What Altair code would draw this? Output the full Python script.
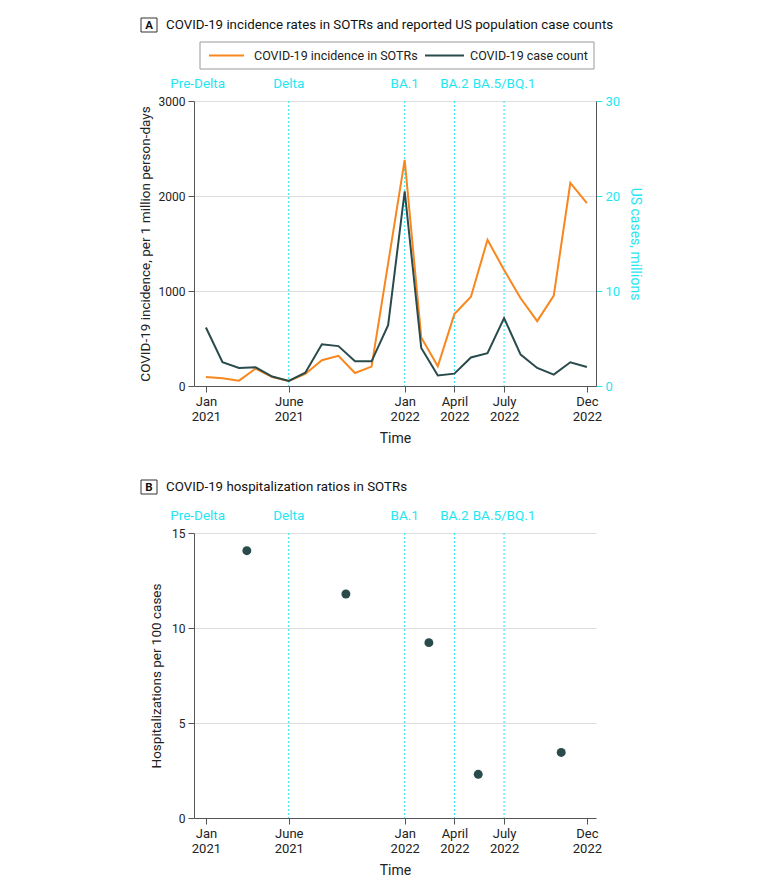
import altair as alt
import pandas as pd

# ---------------- data ----------------
month_idx = list(range(24))  # Jan 2021 .. Dec 2022
incidence_sotr = [95, 81, 56, 183, 95, 53, 127, 271, 317, 137, 204, 1290,
                  2380, 511, 208, 757, 940, 1539, 1222, 923, 683, 951, 2137, 1926]
us_cases_m = [6.16, 2.5, 1.9, 1.97, 1.0, 0.53, 1.4, 4.4, 4.2, 2.6, 2.6, 6.4,
              20.5, 4.0, 1.1, 1.3, 3.0, 3.45, 7.15, 3.3, 1.9, 1.2, 2.5, 2.0]

hosp_x = [2.47, 8.45, 13.46, 16.44, 21.45]
hosp_ratio = [14.07, 11.79, 9.23, 2.3, 3.45]

period_names = ["Pre-Delta", "Delta", "BA.1", "BA.2", "BA.5/BQ.1"]
period_label_pos = [-0.5, 5, 12, 15, 18]
period_bounds = [5, 12, 15, 18]

tick_vals = [0, 5, 12, 15, 18, 23]
tick_month = ["Jan", "June", "Jan", "April", "July", "Dec"]
tick_year = ["2021", "2021", "2022", "2022", "2022", "2022"]

series_names = ["COVID-19 incidence in SOTRs", "COVID-19 case count"]
title_a = "COVID-19 incidence rates in SOTRs and reported US population case counts"
title_b = "COVID-19 hospitalization ratios in SOTRs"

# ---------------- style ----------------
FONT = "Roboto, sans-serif"
ORANGE = "#F7871E"
DARK = "#2A4B4B"
CYAN = "#1FE6F2"
AXIS = "#555555"
W, H = 402, 285

label_expr = ""
for v, m, y in zip(tick_vals, tick_month, tick_year):
    label_expr += f"datum.value == {v} ? ['{m}', '{y}'] : "
label_expr += "''"

xscale = alt.Scale(domain=[-0.72, 23.55], nice=False, zero=False)
xaxis = alt.Axis(values=tick_vals, labelExpr=label_expr, grid=False, title="Time",
                 tickColor=AXIS, domainColor=AXIS, tickSize=6, labelFontSize=13,
                 titleFontSize=14, titleFontWeight="normal", labelPadding=3,
                 titlePadding=8, labelColor="#222", titleColor="#222", labelLineHeight=15)

inc_df = pd.DataFrame({"m": month_idx, "v": incidence_sotr, "s": series_names[0]})
case_df = pd.DataFrame({"m": month_idx, "v": us_cases_m, "s": series_names[1]})
hosp_df = pd.DataFrame({"m": hosp_x, "v": hosp_ratio})
bounds_df = pd.DataFrame({"m": period_bounds})
plabel_df = pd.DataFrame({"m": period_label_pos, "name": period_names})

color = alt.Color("s:N", scale=alt.Scale(domain=series_names, range=[ORANGE, DARK]), legend=None)


def decorations(title_text, letter, top):
    rules = alt.Chart(bounds_df).mark_rule(color=CYAN, strokeDash=[2, 2], strokeWidth=1).encode(
        x=alt.X("m:Q", scale=xscale, axis=xaxis))
    labels = alt.Chart(plabel_df).mark_text(color=CYAN, fontSize=13.5, font=FONT,
                                            baseline="middle", align="center").encode(
        x=alt.X("m:Q", scale=xscale), y=alt.value(-17), text="name:N")
    one = pd.DataFrame({"t": [title_text], "l": [letter]})
    box = alt.Chart(one).mark_rect(fill="white", stroke="#333", strokeWidth=1).encode(
        x=alt.value(-53), x2=alt.value(-37), y=alt.value(top), y2=alt.value(top + 14))
    let = alt.Chart(one).mark_text(fontWeight="bold", fontSize=11.5, font=FONT, color="#111",
                                   align="center", baseline="middle").encode(
        x=alt.value(-45), y=alt.value(top + 7.5), text="l:N")
    ttl = alt.Chart(one).mark_text(fontSize=13.3, font=FONT, color="#111",
                                   align="left", baseline="middle").encode(
        x=alt.value(-28), y=alt.value(top + 7), text="t:N")
    return [rules, labels, box, let, ttl]


# ---------------- manual legend (panel A) ----------------
leg_df = pd.DataFrame({"s": series_names})
LY = -45.5
leg_box = alt.Chart(pd.DataFrame({"a": [0]})).mark_rect(fill="white", stroke="#999", strokeWidth=1).encode(
    x=alt.value(6), x2=alt.value(400), y=alt.value(-59), y2=alt.value(-32))
leg_l1 = alt.Chart(leg_df.iloc[[0]]).mark_rule(strokeWidth=2).encode(
    x=alt.value(15), x2=alt.value(50), y=alt.value(LY), color=color)
leg_l2 = alt.Chart(leg_df.iloc[[1]]).mark_rule(strokeWidth=2).encode(
    x=alt.value(231), x2=alt.value(270), y=alt.value(LY), color=color)
leg_t1 = alt.Chart(leg_df.iloc[[0]]).mark_text(fontSize=12.5, font=FONT, color="#222", align="left",
                                               baseline="middle").encode(
    x=alt.value(60), y=alt.value(LY), text="s:N")
leg_t2 = alt.Chart(leg_df.iloc[[1]]).mark_text(fontSize=12.5, font=FONT, color="#222", align="left",
                                               baseline="middle").encode(
    x=alt.value(276), y=alt.value(LY), text="s:N")

# ---------------- panel A ----------------
decA = decorations(title_a, "A", -83)
inc_line = alt.Chart(inc_df).mark_line(strokeWidth=2).encode(
    x=alt.X("m:Q", scale=xscale, axis=xaxis),
    y=alt.Y("v:Q", scale=alt.Scale(domain=[0, 3000], nice=False),
            axis=alt.Axis(values=[0, 1000, 2000, 3000], format="d", grid=True, gridColor="#dddddd",
                          title="COVID-19 incidence, per 1 million person-days",
                          tickColor=AXIS, domainColor=AXIS, tickSize=6, labelFontSize=12,
                          titleFontSize=13.5, titleFontWeight="normal", titlePadding=6,
                          labelColor="#222", titleColor="#222", labelPadding=3)),
    color=color)
case_line = alt.Chart(case_df).mark_line(strokeWidth=2).encode(
    x=alt.X("m:Q", scale=xscale),
    y=alt.Y("v:Q", scale=alt.Scale(domain=[0, 30], nice=False),
            axis=alt.Axis(orient="right", values=[0, 10, 20, 30], format="d", grid=False,
                          title="US cases, millions", tickColor=CYAN, domainColor=AXIS,
                          tickSize=6, labelFontSize=13, labelColor=CYAN, titleColor=CYAN,
                          titleFontSize=14, titleFontWeight="normal", labelPadding=3,
                          titlePadding=8)),
    color=color)

chartA = alt.layer(decA[0], inc_line, case_line, *decA[1:],
                   leg_box, leg_l1, leg_l2, leg_t1, leg_t2).resolve_scale(
    y="independent").properties(width=W, height=H)

# ---------------- panel B ----------------
decB = decorations(title_b, "B", -53)
pts = alt.Chart(hosp_df).mark_circle(size=80, color=DARK, opacity=1).encode(
    x=alt.X("m:Q", scale=xscale, axis=xaxis),
    y=alt.Y("v:Q", scale=alt.Scale(domain=[0, 15], nice=False),
            axis=alt.Axis(values=[0, 5, 10, 15], format="d", grid=True, gridColor="#dddddd",
                          title="Hospitalizations per 100 cases", tickColor=AXIS,
                          domainColor=AXIS, tickSize=6, labelFontSize=12, titleFontSize=13.5,
                          titleFontWeight="normal", titlePadding=8, labelColor="#222",
                          titleColor="#222", labelPadding=3)))
chartB = alt.layer(decB[0], pts, *decB[1:]).properties(width=W, height=H)

chart = alt.vconcat(chartA, chartB, spacing=34).properties(
    padding={"left": 130, "top": 9, "right": 5, "bottom": 5}
).configure_view(stroke=None).configure_axis(labelFont=FONT, titleFont=FONT).configure_text(font=FONT)

chart.save("out.html", embed_options={"renderer": "svg", "actions": False})
